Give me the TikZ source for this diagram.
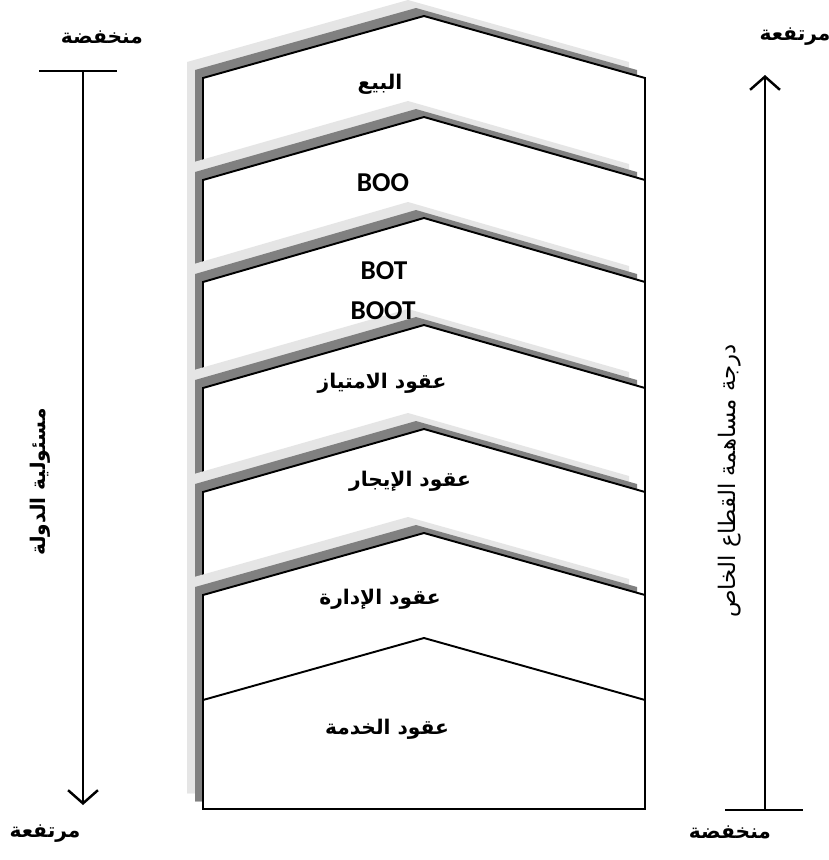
\documentclass[tikz,border=0pt]{standalone}
\usepackage{fontspec}
\usetikzlibrary{arrows.meta}
\TeXXeTstate=1
\newfontfamily\arabicfont[Script=Arabic]{DejaVu Sans}
\newfontfamily\latinfont{Carlito}
\definecolor{shadowdark}{gray}{0.5}
\definecolor{shadowlight}{gray}{0.9}

\tikzset{
  layer/.style={draw=black, line width=1.1pt, fill=white},
  axisline/.style={line width=1.4pt},
  arlabel/.style={font=\arabicfont\bfseries\fontsize{11.5}{13}\selectfont},
  sidelabel/.style={font=\arabicfont\fontsize{13}{15}\selectfont},
  latlabel/.style={font=\latinfont\bfseries\fontsize{15.5}{18}\selectfont},
}

\begin{document}
\begin{tikzpicture}[x=0.02cm, y=-0.02cm]
  \useasboundingbox (0,0) rectangle (829,860);

  % Stacked layers (roof corner y / peak y), top to bottom
  \foreach \l/\p [count=\i] in {78/16, 180/117, 282/218, 388/325, 492/429, 595/533, 700/638} {
    \ifnum\i<7
      \fill[shadowlight, shift={(-16,-16)}] (203,809) -- (203,\l) -- (424,\p) -- (645,\l) -- (645,809) -- cycle;
      \fill[shadowdark, shift={(-8,-8)}] (203,809) -- (203,\l) -- (424,\p) -- (645,\l) -- (645,809) -- cycle;
    \fi
    \draw[layer] (203,809) -- (203,\l) -- (424,\p) -- (645,\l) -- (645,809) -- cycle;
  }

  % Layer labels
  \node[arlabel] (sale) at (380,84) {\beginR البيع\endR};
  \node[latlabel] (boo) at (383,183) {BOO};
  \node[latlabel] (bot) at (384,271) {BOT};
  \node[latlabel] (boot) at (383,311) {BOOT};
  \node[arlabel] (concession) at (382,383) {\beginR عقود الامتياز\endR};
  \node[arlabel] (lease) at (410,481) {\beginR عقود الإيجار\endR};
  \node[arlabel] (mgmt) at (380,599) {\beginR عقود الإدارة\endR};
  \node[arlabel] (service) at (387,729) {\beginR عقود الخدمة\endR};

  % Left axis: state responsibility
  \coordinate (ltickl) at (39,71);
  \coordinate (ltickr) at (117,71);
  \coordinate (ltop) at (83,71);
  \coordinate (lbot) at (83,805);
  \draw[axisline] (ltickl) -- (ltickr);
  \draw[axisline, -{Straight Barb[length=7.5pt,width=17pt]}] (ltop) -- (lbot);
  \node[arlabel] (llow) at (102,37) {\beginR منخفضة\endR};
  \node[arlabel] (lhigh) at (45,834) {\beginR مرتفعة\endR};
  \node[arlabel, rotate=90] (lname) at (40,482) {\beginR مسئولية الدولة\endR};

  % Right axis: private sector share
  \coordinate (rtickl) at (725,810);
  \coordinate (rtickr) at (803,810);
  \coordinate (rbot) at (765,810);
  \coordinate (rtop) at (765,75);
  \draw[axisline] (rtickl) -- (rtickr);
  \draw[axisline, -{Straight Barb[length=7.5pt,width=17pt]}] (rbot) -- (rtop);
  \node[arlabel] (rhigh) at (795,37) {\beginR مرتفعة\endR};
  \node[arlabel] (rlow) at (730,832) {\beginR منخفضة\endR};
  \node[sidelabel, rotate=90] (rname) at (730,481) {\beginR درجة مساهمة القطاع الخاص\endR};
\end{tikzpicture}
\end{document}
